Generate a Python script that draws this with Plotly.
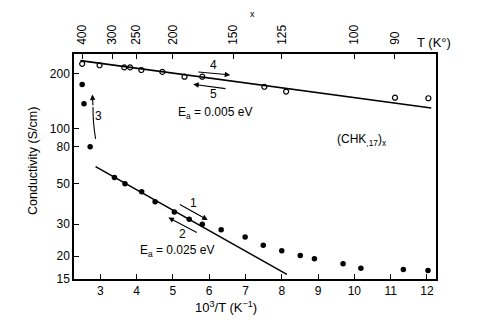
import numpy as np
import plotly.graph_objects as go

# Upper branch (open circles)
open_x = [2.50, 2.98, 3.66, 3.82, 4.13, 4.71, 5.32, 5.81, 7.52, 8.12, 11.12, 12.04]
open_y = [227, 223, 217, 217, 210, 205, 193, 193, 170, 160, 148, 147]

# Lower branch (filled circles)
fill_x = [2.50, 2.55, 2.72, 3.39, 3.68, 4.14, 4.51, 5.04, 5.45, 5.81, 6.33, 6.99,
          7.49, 8.00, 8.51, 8.90, 9.69, 10.18, 11.35, 12.03]
fill_y = [175, 137, 79.7, 54, 50, 45.2, 39.8, 35, 31.9, 29.9, 27.9, 25.5,
          23, 21.4, 20.2, 19.4, 18.2, 17.2, 16.9, 16.7]

# Fitted lines (end points)
fit_hi_x = [2.45, 12.12]
fit_hi_y = [236.5, 130]
fit_lo_x = [2.87, 8.14]
fit_lo_y = [62, 15.9]

# Axis ticks
x_ticks = [3, 4, 5, 6, 7, 8, 9, 10, 11, 12]
y_ticks = [15, 20, 30, 50, 80, 100, 200]
T_ticks = [400, 300, 250, 200, 150, 125, 100, 90]

fnt = dict(family="Liberation Sans, Arial, sans-serif", size=12, color="black")

fig = go.Figure()
fig.add_trace(go.Scatter(x=fit_hi_x, y=fit_hi_y, mode="lines",
                         line=dict(color="black", width=1.6), hoverinfo="skip"))
fig.add_trace(go.Scatter(x=fit_lo_x, y=fit_lo_y, mode="lines",
                         line=dict(color="black", width=1.6), hoverinfo="skip"))
fig.add_trace(go.Scatter(x=open_x, y=open_y, mode="markers",
                         marker=dict(symbol="circle-open", size=5, color="black",
                                     line=dict(width=1.2, color="black"))))
fig.add_trace(go.Scatter(x=fill_x, y=fill_y, mode="markers",
                         marker=dict(symbol="circle", size=5.5, color="black")))
# dummy trace for top axis
fig.add_trace(go.Scatter(x=[3], y=[100], xaxis="x2", mode="markers",
                         marker=dict(opacity=0), hoverinfo="skip"))

# the page body offsets the figure by 8px; compensate
OFF = 8
L, T_, W, H = 74.0 - OFF, 54.0 - OFF, 362.0, 225.0
FW, FH = 480 - OFF, 331 - OFF

xr = [2.275, 12.25]
fig.update_layout(
    template="none",
    width=FW, height=FH,
    margin=dict(l=L, r=FW - L - W, t=T_, b=FH - T_ - H, pad=0),
    paper_bgcolor="white", plot_bgcolor="white",
    showlegend=False,
    font=fnt,
    xaxis=dict(range=xr, tickvals=x_ticks, ticks="inside", ticklen=5,
               tickwidth=1.2, tickcolor="black", showline=True, linecolor="black",
               linewidth=1.5, mirror=False, showgrid=False, zeroline=False,
               tickfont=fnt, automargin=False),
    xaxis2=dict(range=xr, overlaying="x", side="top",
                tickvals=[1000.0 / t for t in T_ticks],
                ticktext=[str(t) for t in T_ticks], tickangle=-90,
                ticks="inside", ticklen=5, tickwidth=1.2, tickcolor="black",
                showline=True, linecolor="black", linewidth=1.5,
                showgrid=False, zeroline=False, tickfont=fnt,
                ticklabelstandoff=5, automargin=False),
    yaxis=dict(type="log", range=[np.log10(15), 2.41], tickvals=y_ticks,
               ticktext=[str(v) for v in y_ticks], ticks="inside", ticklen=5,
               tickwidth=1.2, tickcolor="black", showline=True, linecolor="black",
               linewidth=1.5, mirror=True, showgrid=False, zeroline=False,
               tickfont=fnt, automargin=False),
)

ann = []
def arrow(hx, hy, tx, ty):
    ann.append(dict(x=hx, y=hy, ax=tx, ay=ty, xref="x", yref="y", axref="x",
                    ayref="y", showarrow=True, arrowhead=2, arrowsize=1,
                    arrowwidth=1.1, arrowcolor="black", text=""))
def label(x, y, t, size=12):
    ann.append(dict(x=x, y=y, xref="x", yref="y", text=t, showarrow=False,
                    xanchor="center", yanchor="middle",
                    font=dict(family=fnt["family"], size=size, color="black")))

arrow(6.58, 2.2955, 5.66, 2.312)
label(6.12, 2.352, "4")
arrow(5.56, 2.244, 6.49, 2.219)
label(6.12, 2.188, "5")
label(6.16, 2.088, "E<sub>a</sub> = 0.005 eV")
arrow(2.78, 2.188, 2.80, 2.12)
label(2.956, 2.069, "3")
arrow(5.96, 1.500, 5.15, 1.589)
label(5.56, 1.595, "1")
arrow(4.875, 1.513, 5.70, 1.427)
label(5.26, 1.421, "2")
label(5.12, 1.330, "E<sub>a</sub> = 0.025 eV")
label(10.21, 1.941, "(CHK<sub>,17</sub>)<sub>x</sub>", size=12)

def paper(px, py):
    # px, py: screen pixels in the target image
    return (px - OFF - L) / W, (T_ + H - (py - OFF)) / H

for (px, py, txt, sz, ang) in [
        (225.7, 306.7, "10<sup>3</sup>/T (K<sup>−1</sup>)", 13, 0),
        (33, 161, "Conductivity (S/cm)", 12.5, -90),
        (434, 43, "T (K°)", 13, 0),
        (252, 14, "x", 9, 0)]:
    x, y = paper(px, py)
    ann.append(dict(x=x, y=y, xref="paper", yref="paper", text=txt,
                    textangle=ang, showarrow=False,
                    xanchor="center", yanchor="middle",
                    font=dict(family=fnt["family"], size=sz, color="black")))
fig.update_layout(annotations=ann)

# curved arrow 3 body (path coordinates in data units)
fig.add_shape(type="path", xref="x", yref="y",
              path="M 2.87,88.1 Q 2.79,109.6 2.80,131.8",
              line=dict(color="black", width=1.1))

fig.write_html("out.html")
